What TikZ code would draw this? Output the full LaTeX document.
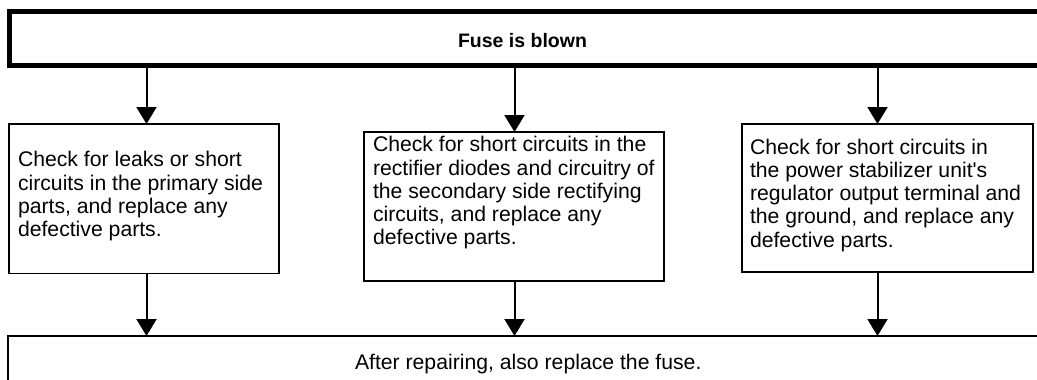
\documentclass[tikz,border=0pt]{standalone}
\usepackage{fontspec}
\setmainfont{Liberation Sans}
\usepackage{tikz}
\usetikzlibrary{positioning, arrows.meta}

\begin{document}
\begin{tikzpicture}[x=1pt, y=-1pt, every node/.style={inner sep=0pt, outer sep=0pt},
  box/.style={draw, rectangle, line width=1.6pt},
  txt/.style={align=left, anchor=base west, font=\fontsize{21.2}{23.3}\selectfont},
  flow/.style={-{Triangle[width=20pt,length=17pt]}, line width=2pt}]
  \useasboundingbox (0,0) rectangle (1037,380);
  \clip (0,0) rectangle (1037,380);
  \fill[white] (0,0) rectangle (1037,380);

  % boxes
  \node[box, line width=5pt, minimum width=1050.5pt, minimum height=54pt] (fuse) at (534.75,38.5) {};
  \node[box, minimum width=270pt, minimum height=149.5pt] (chk1) at (144,198.75) {};
  \node[box, minimum width=300pt, minimum height=149pt] (chk2) at (514,206.5) {};
  \node[box, minimum width=291pt, minimum height=148pt] (chk3) at (887.5,198) {};
  \node[box, minimum width=1052pt, minimum height=84pt] (fix) at (534,378) {};

  % texts (anchored at the baseline of the last line)
  \node[txt, font=\fontsize{19.5}{23}\selectfont\bfseries] (fusetxt) at (458,47.3) {Fuse is blown};
  \node[txt] (t1) at (18,236.6) {Check for leaks or short\\circuits in the primary side\\parts, and replace any\\defective parts.};
  \node[txt] (t2) at (373,244.9) {Check for short circuits in the\\rectifier diodes and circuitry of\\the secondary side rectifying\\circuits, and replace any\\defective parts.};
  \node[txt] (t3) at (750,247.2) {Check for short circuits in\\the power stabilizer unit\textquotesingle s\\regulator output terminal and\\the ground, and replace any\\defective parts.};
  \node[txt] (fixtxt) at (355,369) {After repairing, also replace the fuse.};

  % arrows
  \coordinate (in1) at ([xshift=2.5pt]chk1.north);
  \coordinate (in2) at ([xshift=0.5pt]chk2.north);
  \coordinate (in3) at ([xshift=-10pt]chk3.north);
  \coordinate (out1) at ([xshift=2.5pt]chk1.south);
  \coordinate (out2) at ([xshift=0.5pt]chk2.south);
  \coordinate (out3) at ([xshift=-10pt]chk3.south);
  \foreach \i in {1,2,3}{
    \draw[flow] (in\i |- fuse.south) -- (in\i);
    \draw[flow] (out\i) -- (out\i |- fix.north);
  }
\end{tikzpicture}
\end{document}
